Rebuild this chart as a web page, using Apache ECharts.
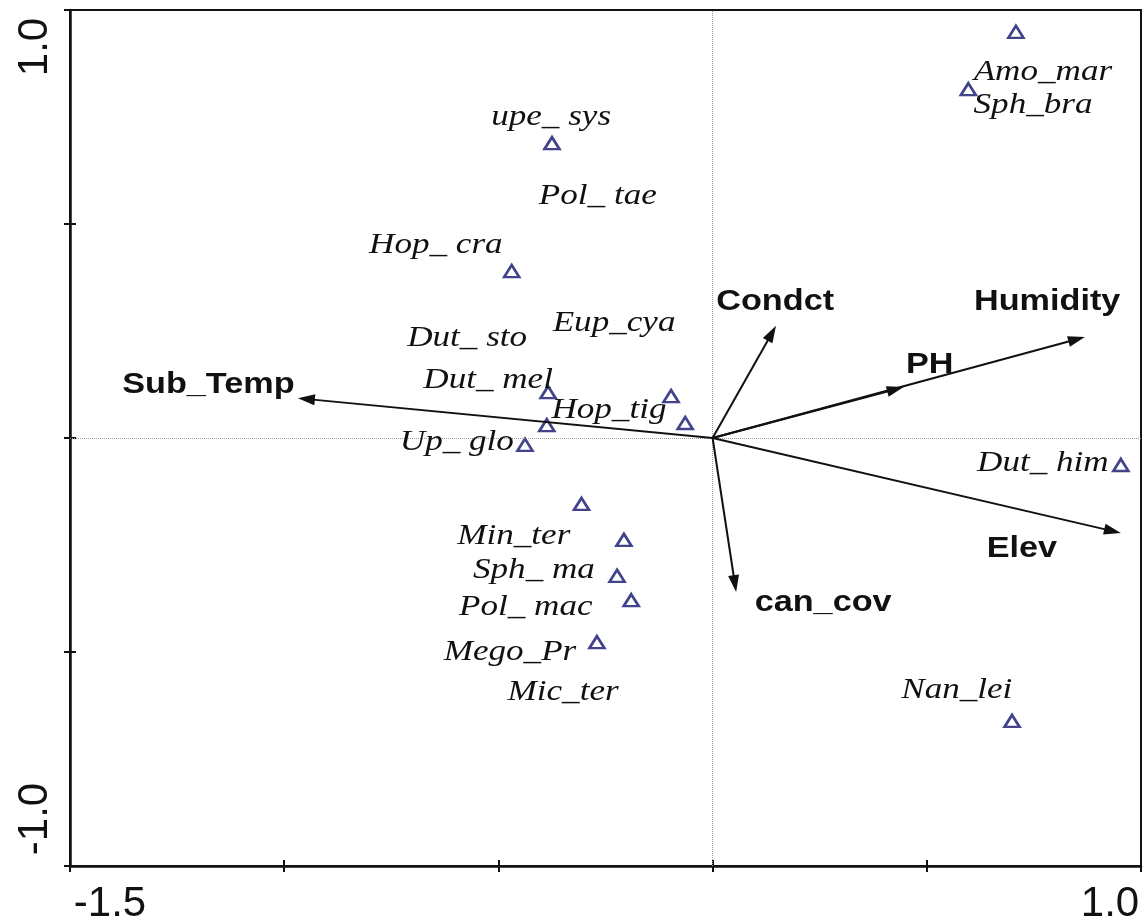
<!DOCTYPE html>
<html>
<head>
<meta charset="utf-8">
<script src="https://cdn.jsdelivr.net/npm/echarts@6/dist/echarts.min.js"></script>
<style>
  html, body { margin: 0; padding: 0; background: #fff; }
  #chart { width: 1146px; height: 924px; }
</style>
</head>
<body>
<div id="chart"></div>
<script>
// Species scores on the first two ordination axes (triangles)
const pointX = [0.708, 0.597, -0.375, -0.469, -0.384, -0.387, -0.438, -0.097, -0.064, 0.953, -0.306, -0.207, -0.223, -0.190, -0.270, 0.699];
const pointY = [0.949, 0.815, 0.689, 0.390, 0.107, 0.030, -0.016, 0.098, 0.035, -0.063, -0.154, -0.238, -0.322, -0.379, -0.477, -0.661];

// Species name labels and the ordination coordinates where each is written
const speciesNames = ['upe_ sys', 'Pol_ tae', 'Hop_ cra', 'Eup_cya', 'Dut_ sto', 'Dut_ mel', 'Hop_tig', 'Up_ glo',
  'Amo_mar', 'Sph_bra', 'Dut_ him', 'Min_ter', 'Sph_ ma', 'Pol_ mac', 'Mego_Pr', 'Mic_ter', 'Nan_lei'];
const speciesLabelX = [-0.377, -0.268, -0.646, -0.230, -0.573, -0.524, -0.242, -0.597,
  0.771, 0.748, 0.771, -0.464, -0.417, -0.436, -0.473, -0.349, 0.570];
const speciesLabelY = [0.750, 0.565, 0.451, 0.269, 0.234, 0.136, 0.065, -0.009,
  0.855, 0.778, -0.058, -0.229, -0.308, -0.395, -0.500, -0.593, -0.589];

// Environmental variables: biplot arrow tips and label anchors
const envNames = ['Sub_Temp', 'Condct', 'PH', 'Humidity', 'Elev', 'can_cov'];
const envX = [-0.968, 0.148, 0.446, 0.869, 0.953, 0.055];
const envY = [0.093, 0.262, 0.119, 0.236, -0.222, -0.360];
const envLabelX = [-1.177, 0.146, 0.507, 0.781, 0.722, 0.258];
const envLabelY = [0.124, 0.318, 0.171, 0.318, -0.259, -0.386];

// Axis extents and the tick labels that are printed
const xRange = [-1.5, 1.0];
const yRange = [-1.0, 1.0];
const tickStep = 0.5;
const xTickValues = [-1.5, 1.0];
const xTickTexts = ['-1.5', '1.0'];
const yTickValues = [-1.0, 1.0];
const yTickTexts = ['-1.0', '1.0'];

const INK = '#111';
const TRI = '#14146e';

function tickText(values, texts, v) {
  for (let i = 0; i < values.length; i++) {
    if (Math.abs(values[i] - v) < 1e-9) return '{' + (i === 0 ? 'lo' : 'hi') + '|' + texts[i] + '}';
  }
  return '';
}

const chart = echarts.init(document.getElementById('chart'), null, { renderer: 'canvas' });

const tickFont = { fontSize: 42, fontFamily: '"Liberation Sans", Arial, sans-serif', color: INK };

const baseX = {
  type: 'value', min: xRange[0], max: xRange[1], interval: tickStep,
  splitLine: { show: false }
};
const baseY = {
  type: 'value', min: yRange[0], max: yRange[1], interval: tickStep,
  splitLine: { show: false }
};

const option = {
  animation: false,
  backgroundColor: '#fff',
  grid: {
    left: 70, right: 5, top: 10, bottom: 58,
    show: true, borderColor: INK, borderWidth: 2,
    containLabel: false, outerBoundsMode: 'none'
  },
  xAxis: [
    Object.assign({}, baseX, {
      position: 'bottom',
      axisLine: { show: true, onZero: false, lineStyle: { color: INK, width: 2.5 } },
      axisTick: { show: true, inside: false, length: 6, lineStyle: { color: INK, width: 2 } },
      axisLabel: Object.assign({
        show: true, margin: 17, hideOverlap: false, showMinLabel: true, showMaxLabel: true,
        formatter: v => tickText(xTickValues, xTickTexts, v),
        rich: {
          lo: Object.assign({ padding: [0, 0, 0, 80] }, tickFont),
          hi: Object.assign({ padding: [0, 62, 0, 0] }, tickFont)
        }
      }, tickFont)
    }),
    Object.assign({}, baseX, {
      position: 'bottom',
      axisLine: { show: false, onZero: false },
      axisTick: { show: true, inside: true, length: 6, lineStyle: { color: INK, width: 2 } },
      axisLabel: { show: false }
    })
  ],
  yAxis: [
    Object.assign({}, baseY, {
      position: 'left',
      axisLine: { show: true, onZero: false, lineStyle: { color: INK, width: 2.5 } },
      axisTick: { show: true, inside: false, length: 6, lineStyle: { color: INK, width: 2 } },
      axisLabel: Object.assign({
        show: true, margin: 14, rotate: 90, hideOverlap: false, showMinLabel: true, showMaxLabel: true,
        formatter: v => tickText(yTickValues, yTickTexts, v),
        rich: {
          lo: Object.assign({ padding: [0, 0, 0, 94] }, tickFont),
          hi: Object.assign({ padding: [0, 74, 0, 0] }, tickFont)
        }
      }, tickFont)
    }),
    Object.assign({}, baseY, {
      position: 'left',
      axisLine: { show: false, onZero: false },
      axisTick: { show: true, inside: true, length: 6, lineStyle: { color: INK, width: 2 } },
      axisLabel: { show: false }
    })
  ],
  series: [
    {
      // species triangles, with the dotted zero reference lines
      type: 'scatter',
      xAxisIndex: 0, yAxisIndex: 0,
      data: pointX.map((x, i) => [x, pointY[i]]),
      symbol: 'triangle',
      symbolSize: [15, 12],
      itemStyle: { color: 'rgba(0,0,0,0)', borderColor: TRI, borderWidth: 2.6 },
      silent: true,
      z: 4,
      markLine: {
        silent: true,
        symbol: ['none', 'none'],
        label: { show: false },
        lineStyle: { color: '#9a9a9a', type: 'dotted', width: 1 },
        data: [{ xAxis: 0 }, { yAxis: 0 }],
        animation: false
      }
    },
    {
      // environmental arrows from the origin
      type: 'custom',
      xAxisIndex: 0, yAxisIndex: 0,
      data: envX.map((x, i) => [x, envY[i]]),
      encode: { x: 0, y: 1 },
      silent: true,
      z: 5,
      renderItem: (params, api) => {
        const o = api.coord([0, 0]);
        const t = api.coord([api.value(0), api.value(1)]);
        const dx = t[0] - o[0], dy = t[1] - o[1];
        const len = Math.hypot(dx, dy);
        const ux = dx / len, uy = dy / len;
        const head = 17, half = 5.5;
        const bx = t[0] - ux * head, by = t[1] - uy * head;
        return {
          type: 'group',
          children: [
            { type: 'line', shape: { x1: o[0], y1: o[1], x2: bx + ux * 2, y2: by + uy * 2 },
              style: { stroke: INK, lineWidth: 2 } },
            { type: 'polygon',
              shape: { points: [[t[0], t[1]], [bx - uy * half, by + ux * half], [bx + uy * half, by - ux * half]] },
              style: { fill: INK } }
          ]
        };
      }
    },
    {
      // environmental variable names
      type: 'custom',
      xAxisIndex: 0, yAxisIndex: 0,
      data: envLabelX.map((x, i) => [x, envLabelY[i]]),
      encode: { x: 0, y: 1 },
      silent: true,
      z: 6,
      renderItem: (params, api) => {
        const p = api.coord([api.value(0), api.value(1)]);
        return {
          type: 'text', x: p[0], y: p[1], scaleX: 1.18,
          style: {
            text: envNames[params.dataIndex],
            font: 'bold 29px "Liberation Sans", Arial, sans-serif',
            fill: INK, align: 'center', verticalAlign: 'middle'
          }
        };
      }
    },
    {
      // species names
      type: 'custom',
      xAxisIndex: 0, yAxisIndex: 0,
      data: speciesLabelX.map((x, i) => [x, speciesLabelY[i]]),
      encode: { x: 0, y: 1 },
      silent: true,
      z: 6,
      renderItem: (params, api) => {
        const p = api.coord([api.value(0), api.value(1)]);
        return {
          type: 'text', x: p[0], y: p[1], scaleX: 1.17,
          style: {
            text: speciesNames[params.dataIndex],
            font: 'italic 30px "Liberation Serif", "Times New Roman", serif',
            fill: INK, align: 'center', verticalAlign: 'middle'
          }
        };
      }
    }
  ]
};

chart.setOption(option);
</script>
</body>
</html>
